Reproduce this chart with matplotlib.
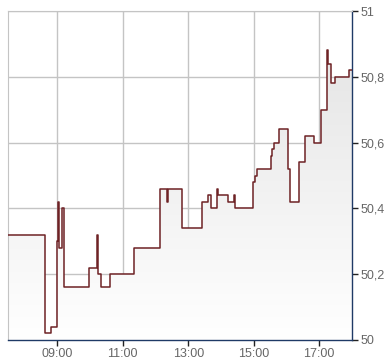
import numpy as np
import matplotlib
matplotlib.use("Agg")
import matplotlib.pyplot as plt

plt.rcParams['font.family'] = ['Liberation Sans', 'DejaVu Sans']

# Intraday price (hours since midnight, price at which a step starts)
times = [7.5, 8.64, 8.82, 9.0, 9.03, 9.05, 9.16, 9.22, 9.98, 10.23, 10.26,
         10.35, 10.62, 11.36, 12.15, 12.36, 12.38, 12.82, 13.43, 13.59, 13.70,
         13.89, 13.92, 14.20, 14.41, 14.44, 14.99, 15.04, 15.09, 15.52, 15.57,
         15.62, 15.78, 16.04, 16.12, 16.38, 16.58, 16.85, 17.04, 17.23, 17.26,
         17.35, 17.48, 17.90, 18.0]
prices = [50.32, 50.02, 50.04, 50.30, 50.42, 50.28, 50.40, 50.16, 50.22, 50.32,
          50.20, 50.16, 50.20, 50.28, 50.46, 50.42, 50.46, 50.34, 50.42, 50.44,
          50.40, 50.46, 50.44, 50.42, 50.44, 50.40, 50.48, 50.50, 50.52, 50.56,
          50.58, 50.60, 50.64, 50.52, 50.42, 50.54, 50.62, 50.60, 50.70, 50.88,
          50.84, 50.78, 50.80, 50.82, 50.82]

x_ticks = [9, 11, 13, 15, 17]
x_labels = ["09:00", "11:00", "13:00", "15:00", "17:00"]
y_ticks = [50.0, 50.2, 50.4, 50.6, 50.8, 51.0]
y_labels = ["50", "50,2", "50,4", "50,6", "50,8", "51"]

fig = plt.figure(figsize=(3.9, 3.64), dpi=100)
ax = fig.add_axes([8 / 390, 1 - 340 / 364, 344 / 390, 329 / 364])

x0, x1 = 7.5, 18.0
y0, y1 = 50.0, 51.0

# gradient fill below the line
poly = ax.fill_between(times, prices, y0, step='post', color='none')
grad = np.linspace(0, 1, 256).reshape(-1, 1)
img = ax.imshow(grad, extent=[x0, x1, y0, y1], origin='lower', aspect='auto',
                cmap=matplotlib.colors.LinearSegmentedColormap.from_list(
                    'g', ['#ffffff', '#e2e2e2']), zorder=1)
img.set_clip_path(poly.get_paths()[0], transform=ax.transData)

ax.step(times, prices, where='post', color='#6e2225', lw=1.1, zorder=3)

ax.set_xlim(x0, x1)
ax.set_ylim(y0, y1)

ax.set_xticks(x_ticks)
ax.set_xticklabels(x_labels)
ax.set_yticks(y_ticks)
ax.set_yticklabels(y_labels)
ax.yaxis.tick_right()

ax.grid(True, color='#c4c4c4', lw=1, zorder=0)
ax.set_axisbelow(True)

for s in ['top', 'left']:
    ax.spines[s].set_color('#c4c4c4')
for s in ['bottom', 'right']:
    ax.spines[s].set_color('#1f3a66')
    ax.spines[s].set_linewidth(1.0)

ax.tick_params(axis='both', direction='out', length=4, width=1,
               color='#222222', labelcolor='#666666', labelsize=9)
ax.tick_params(axis='x', pad=2)
ax.tick_params(axis='y', pad=2)

fig.savefig("out.png", dpi=100)
